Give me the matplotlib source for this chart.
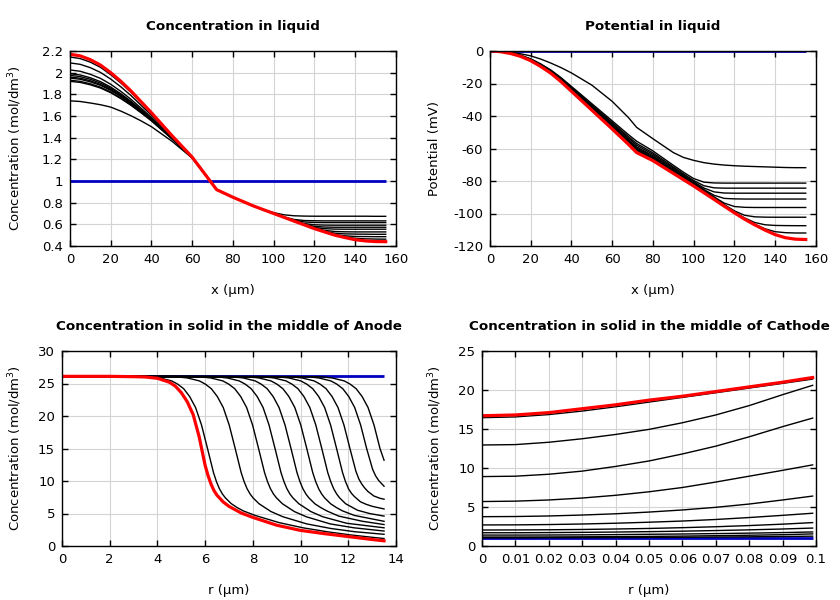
"""Battery cell profiles: liquid concentration / potential and solid concentration (4 panels)."""
import matplotlib

matplotlib.use("Agg")
import matplotlib.pyplot as plt

plt.rcParams["font.family"] = ["DejaVu Sans"]
plt.rcParams["axes.unicode_minus"] = False

# ---- liquid phase, position across the cell (um) ----
x_liq = [0, 5, 10, 15, 20, 25, 30, 35, 40, 50, 60, 68, 72, 80, 90, 95,
         100, 105, 110, 115, 120, 125, 130, 135, 140, 145, 150, 155]

conc_liq_init = [1.0] * len(x_liq)
conc_liq = [
    [1.74, 1.734, 1.72, 1.704, 1.682, 1.645, 1.602, 1.554, 1.501, 1.368, 1.211, 1.02, 0.92, 0.85, 0.77,
     0.737, 0.708, 0.688, 0.679, 0.676, 0.675, 0.675, 0.675, 0.675, 0.675, 0.675, 0.674, 0.674],
    [1.92, 1.91, 1.888, 1.858, 1.815, 1.76, 1.698, 1.628, 1.555, 1.39, 1.215, 1.02, 0.92, 0.85, 0.77,
     0.735, 0.701, 0.668, 0.645, 0.635, 0.633, 0.632, 0.632, 0.632, 0.632, 0.632, 0.632, 0.632],
    [1.93, 1.92, 1.897, 1.866, 1.822, 1.766, 1.703, 1.632, 1.558, 1.391, 1.215, 1.02, 0.92, 0.85, 0.77,
     0.735, 0.700, 0.667, 0.638, 0.622, 0.617, 0.616, 0.616, 0.616, 0.616, 0.616, 0.616, 0.616],
    [1.95, 1.939, 1.915, 1.883, 1.837, 1.779, 1.713, 1.64, 1.564, 1.394, 1.216, 1.02, 0.92, 0.85, 0.77,
     0.735, 0.70, 0.666, 0.633, 0.607, 0.596, 0.593, 0.592, 0.592, 0.592, 0.592, 0.592, 0.592],
    [1.96, 1.949, 1.925, 1.891, 1.845, 1.786, 1.719, 1.644, 1.567, 1.395, 1.216, 1.02, 0.92, 0.85, 0.77,
     0.735, 0.70, 0.665, 0.631, 0.601, 0.581, 0.575, 0.573, 0.573, 0.573, 0.573, 0.573, 0.573],
    [1.975, 1.964, 1.939, 1.904, 1.856, 1.795, 1.727, 1.65, 1.571, 1.397, 1.216, 1.02, 0.92, 0.85, 0.77,
     0.735, 0.70, 0.665, 0.63, 0.597, 0.571, 0.56, 0.556, 0.555, 0.555, 0.555, 0.555, 0.555],
    [1.99, 1.979, 1.953, 1.917, 1.867, 1.805, 1.735, 1.656, 1.576, 1.398, 1.216, 1.02, 0.92, 0.85, 0.77,
     0.735, 0.70, 0.665, 0.63, 0.596, 0.564, 0.544, 0.534, 0.531, 0.530, 0.530, 0.530, 0.530],
    [2.025, 2.013, 1.985, 1.947, 1.893, 1.827, 1.753, 1.671, 1.586, 1.403, 1.217, 1.02, 0.92, 0.85, 0.77,
     0.735, 0.70, 0.665, 0.63, 0.595, 0.561, 0.536, 0.518, 0.512, 0.510, 0.509, 0.508, 0.508],
    [2.09, 2.077, 2.046, 2.002, 1.941, 1.869, 1.788, 1.697, 1.606, 1.41, 1.218, 1.02, 0.92, 0.85, 0.77,
     0.735, 0.70, 0.665, 0.63, 0.595, 0.5605, 0.532, 0.506, 0.494, 0.488, 0.487, 0.486, 0.486],
    [2.145, 2.13, 2.097, 2.049, 1.981, 1.904, 1.817, 1.72, 1.622, 1.417, 1.219, 1.02, 0.92, 0.85, 0.77,
     0.735, 0.70, 0.665, 0.63, 0.595, 0.56, 0.531, 0.503, 0.484, 0.471, 0.466, 0.464, 0.463],
]
conc_liq_final = [2.17, 2.155, 2.12, 2.07, 2.00, 1.92, 1.83, 1.73, 1.63, 1.42, 1.22, 1.02, 0.92, 0.85, 0.77,
                  0.735, 0.70, 0.665, 0.63, 0.595, 0.56, 0.53, 0.50, 0.478, 0.458, 0.447, 0.441, 0.44]

pot_liq_init = [0.0] * len(x_liq)
pot_liq = [
    [0, -0.2, -0.8, -1.7, -3, -5, -7.5, -10.3, -13.5, -21, -31, -41, -47, -54, -62.5,
     -65.5, -67.3, -68.7, -69.6, -70.2, -70.6, -70.9, -71.1, -71.3, -71.5, -71.7, -71.8, -71.8],
    [0, -0.35, -1.2, -2.6, -4.8, -8.0, -11.8, -16.5, -21.8, -32.4, -43, -51.5, -55.5, -61.5, -70.3,
     -74.6, -78.5, -80.7, -81.2, -81.3, -81.3, -81.3, -81.3, -81.3, -81.3, -81.3, -81.3, -81.3],
    [0, -0.36, -1.26, -2.74, -5.04, -8.32, -12.2, -17.0, -22.4, -33.2, -44, -52.7, -56.9, -62.7, -71.3,
     -75.6, -79.7, -82.9, -84.2, -84.4, -84.4, -84.4, -84.4, -84.4, -84.4, -84.4, -84.4, -84.4],
    [0, -0.37, -1.3, -2.84, -5.22, -8.56, -12.5, -17.37, -22.85, -33.8, -44.75, -53.6, -57.95, -63.6, -72.05,
     -76.3, -80.4, -84.3, -86.7, -87.4, -87.5, -87.5, -87.5, -87.5, -87.5, -87.5, -87.5, -87.5],
    [0, -0.38, -1.35, -2.95, -5.4, -8.8, -12.8, -17.75, -23.3, -34.4, -45.5, -54.5, -59, -64.5, -72.8,
     -76.95, -81.1, -85.2, -88.8, -90.7, -91.0, -91.1, -91.1, -91.1, -91.1, -91.1, -91.1, -91.1],
    [0, -0.38, -1.38, -3.02, -5.52, -8.96, -13.0, -18.0, -23.6, -34.8, -46, -55.1, -59.7, -65.1, -73.3,
     -77.4, -81.5, -85.7, -89.8, -93.6, -95.7, -96.2, -96.3, -96.3, -96.3, -96.3, -96.3, -96.3],
    [0, -0.39, -1.41, -3.09, -5.64, -9.12, -13.2, -18.25, -23.9, -35.2, -46.5, -55.7, -60.4, -65.7, -73.8,
     -77.85, -81.9, -86.1, -90.25, -94.5, -98.4, -101.1, -102.05, -102.25, -102.3, -102.3, -102.3, -102.3],
    [0, -0.39, -1.44, -3.16, -5.76, -9.28, -13.4, -18.5, -24.2, -35.6, -47, -56.3, -61.1, -66.3, -74.3,
     -78.3, -82.3, -86.46, -90.6, -94.86, -99.0, -102.74, -105.55, -106.93, -107.35, -107.45, -107.5, -107.5],
    [0, -0.4, -1.47, -3.23, -5.88, -9.44, -13.6, -18.75, -24.5, -36.0, -47.5, -56.9, -61.8, -66.9, -74.8,
     -78.75, -82.7, -86.83, -90.95, -95.18, -99.3, -103.2, -106.6, -109.4, -111.2, -111.8, -112.0, -112.0],
]
pot_liq_final = [0, -0.4, -1.5, -3.3, -6.0, -9.6, -13.8, -19.0, -24.8, -36.4, -48, -57.5, -62.5, -67.5, -75.3,
                 -79.2, -83.1, -87.2, -91.3, -95.5, -99.6, -103.5, -107, -110.2, -113, -114.9, -115.8, -116]

# ---- solid phase, anode particle radius (um) ----
r_anode_init = [0, 13.5]
c_anode_init = [26.1, 26.1]
r_anode = [
    [0, 3.6, 4.1, 4.6, 4.85, 5.1, 5.35, 5.6, 5.85, 6.1, 6.35, 6.475, 6.6, 6.725, 6.85, 7.1, 7.35, 7.6,
     8.1, 9.1, 10.1, 11.1, 12.1, 13.1, 13.5],
    [0, 4.76, 5.26, 5.76, 6.01, 6.26, 6.51, 6.76, 7.01, 7.26, 7.51, 7.635, 7.76, 7.885, 8.01, 8.26, 8.51, 8.76,
     9.26, 10.26, 11.26, 12.26, 13.5],
    [0, 5.74, 6.24, 6.74, 6.99, 7.24, 7.49, 7.74, 7.99, 8.24, 8.49, 8.615, 8.74, 8.865, 8.99, 9.24, 9.49, 9.74,
     10.24, 11.24, 12.24, 13.5],
    [0, 6.43, 6.93, 7.43, 7.68, 7.93, 8.18, 8.43, 8.68, 8.93, 9.18, 9.305, 9.43, 9.555, 9.68, 9.93, 10.18, 10.43,
     10.93, 11.93, 13.5],
    [0, 7.1, 7.6, 8.1, 8.35, 8.6, 8.85, 9.1, 9.35, 9.6, 9.85, 9.975, 10.1, 10.225, 10.35, 10.6, 10.85, 11.1,
     11.6, 12.6, 13.5],
    [0, 7.76, 8.26, 8.76, 9.01, 9.26, 9.51, 9.76, 10.01, 10.26, 10.51, 10.635, 10.76, 10.885, 11.01, 11.26, 11.51,
     11.76, 12.26, 13.5],
    [0, 8.39, 8.89, 9.39, 9.64, 9.89, 10.14, 10.39, 10.64, 10.89, 11.14, 11.265, 11.39, 11.515, 11.64, 11.89,
     12.14, 12.39, 12.89, 13.5],
    [0, 9.01, 9.51, 10.01, 10.26, 10.51, 10.76, 11.01, 11.26, 11.51, 11.76, 11.885, 12.01, 12.135, 12.26, 12.51,
     12.76, 13.01, 13.5],
    [0, 9.57, 10.07, 10.57, 10.82, 11.07, 11.32, 11.57, 11.82, 12.07, 12.32, 12.445, 12.57, 12.695, 12.82, 13.07,
     13.32, 13.5],
    [0, 10.27, 10.77, 11.27, 11.52, 11.77, 12.02, 12.27, 12.52, 12.77, 13.02, 13.145, 13.27, 13.395, 13.5],
    [0, 10.83, 11.33, 11.83, 12.08, 12.33, 12.58, 12.83, 13.08, 13.33, 13.5],
]
c_anode = [
    [26.1, 26.05, 25.85, 25.4, 24.9, 24.2, 23.0, 21.3, 18.6, 15.0, 11.3, 9.9, 8.8, 8.0, 7.4, 6.5, 5.9, 5.4,
     4.7, 3.6, 2.8, 2.2, 1.7, 1.3, 1.15],
    [26.1, 26.05, 25.85, 25.4, 24.9, 24.2, 23.0, 21.3, 18.6, 15.0, 11.3, 9.9, 8.8, 8.0, 7.4, 6.5, 5.9, 5.3,
     4.5, 3.4, 2.7, 2.2, 1.8],
    [26.1, 26.05, 25.85, 25.4, 24.9, 24.2, 23.0, 21.3, 18.6, 15.0, 11.3, 9.9, 8.8, 8.0, 7.4, 6.5, 5.9, 5.3,
     4.5, 3.4, 2.8, 2.3],
    [26.1, 26.05, 25.85, 25.4, 24.9, 24.2, 23.0, 21.3, 18.6, 15.0, 11.3, 9.9, 8.8, 8.0, 7.4, 6.5, 5.9, 5.3,
     4.5, 3.5, 2.8],
    [26.1, 26.05, 25.85, 25.4, 24.9, 24.2, 23.0, 21.3, 18.6, 15.0, 11.3, 9.9, 8.8, 8.0, 7.4, 6.5, 5.9, 5.4,
     4.6, 3.8, 3.3],
    [26.1, 26.05, 25.85, 25.4, 24.9, 24.2, 23.0, 21.3, 18.6, 15.0, 11.3, 9.9, 8.8, 8.0, 7.4, 6.5, 5.9, 5.4,
     4.7, 3.8],
    [26.1, 26.05, 25.85, 25.4, 24.9, 24.2, 23.0, 21.3, 18.6, 15.0, 11.3, 9.9, 8.8, 8.0, 7.4, 6.5, 6.0, 5.5,
     5.0, 4.6],
    [26.1, 26.05, 25.85, 25.4, 24.9, 24.2, 23.0, 21.3, 18.6, 15.0, 11.3, 9.9, 8.8, 8.1, 7.6, 6.8, 6.4, 6.1, 5.7],
    [26.1, 26.05, 25.85, 25.4, 24.9, 24.2, 23.0, 21.3, 18.6, 15.0, 11.5, 10.3, 9.5, 8.9, 8.4, 7.7, 7.35, 7.2],
    [26.1, 26.05, 25.85, 25.4, 24.9, 24.2, 23.0, 21.3, 18.6, 15.0, 11.8, 10.8, 10.1, 9.6, 9.2],
    [26.1, 26.05, 25.85, 25.4, 24.9, 24.2, 23.0, 21.3, 18.6, 15.0, 13.2],
]
r_anode_final = [0, 2, 3, 3.5, 4, 4.5, 4.75, 5, 5.25, 5.5, 5.75, 6, 6.125, 6.25, 6.375, 6.5, 6.75, 7,
                 7.5, 8, 9, 10, 11, 12, 13, 13.5]
c_anode_final = [26.1, 26.1, 26.05, 26.0, 25.8, 25.2, 24.6, 23.6, 22.2, 20.2, 16.8, 12.4, 10.8, 9.5, 8.5, 7.8,
                 6.8, 6.1, 5.1, 4.4, 3.2, 2.4, 1.9, 1.45, 1.0, 0.8]

# ---- solid phase, cathode particle radius (um) ----
r_cath = [0, 0.01, 0.02, 0.03, 0.04, 0.05, 0.06, 0.07, 0.08, 0.09, 0.099]
c_cath_init = [1.0] * len(r_cath)
c_cath = [
    [1.05, 1.05, 1.06, 1.07, 1.08, 1.1, 1.12, 1.15, 1.18, 1.22, 1.26],
    [1.15, 1.15, 1.16, 1.18, 1.2, 1.23, 1.27, 1.32, 1.38, 1.45, 1.55],
    [1.4, 1.4, 1.41, 1.43, 1.46, 1.5, 1.54, 1.59, 1.65, 1.72, 1.8],
    [1.7, 1.7, 1.72, 1.75, 1.79, 1.84, 1.9, 1.98, 2.07, 2.18, 2.3],
    [2.05, 2.06, 2.08, 2.12, 2.18, 2.25, 2.35, 2.47, 2.62, 2.8, 3.0],
    [2.7, 2.71, 2.75, 2.82, 2.92, 3.05, 3.2, 3.4, 3.65, 3.93, 4.2],
    [3.76, 3.78, 3.85, 3.97, 4.13, 4.35, 4.62, 4.96, 5.38, 5.9, 6.4],
    [5.7, 5.75, 5.9, 6.15, 6.5, 6.95, 7.5, 8.2, 8.95, 9.7, 10.4],
    [8.9, 8.95, 9.2, 9.6, 10.2, 10.9, 11.8, 12.8, 14.0, 15.3, 16.4],
    [12.95, 13.0, 13.3, 13.75, 14.3, 14.95, 15.8, 16.8, 18.0, 19.4, 20.6],
    [16.45, 16.55, 16.85, 17.3, 17.85, 18.45, 19.05, 19.65, 20.25, 20.85, 21.4],
]
c_cath_final = [16.7, 16.8, 17.1, 17.6, 18.1, 18.7, 19.2, 19.8, 20.4, 21.0, 21.6]

# ---- axis ticks (gnuplot-like labels) ----
xt_liq = [0, 20, 40, 60, 80, 100, 120, 140, 160]
yt_conc_liq = [0.4, 0.6, 0.8, 1.0, 1.2, 1.4, 1.6, 1.8, 2.0, 2.2]
yl_conc_liq = ["0.4", "0.6", "0.8", "1", "1.2", "1.4", "1.6", "1.8", "2", "2.2"]
yt_pot = [-120, -100, -80, -60, -40, -20, 0]
xt_anode = [0, 2, 4, 6, 8, 10, 12, 14]
yt_anode = [0, 5, 10, 15, 20, 25, 30]
xt_cath = [0, 0.01, 0.02, 0.03, 0.04, 0.05, 0.06, 0.07, 0.08, 0.09, 0.1]
xl_cath = ["0", "0.01", "0.02", "0.03", "0.04", "0.05", "0.06", "0.07", "0.08", "0.09", "0.1"]
yt_cath = [0, 5, 10, 15, 20, 25]

BLUE = "#0000c0"
RED = "#ff0000"
CONC_LABEL = "Concentration (mol/dm$^3$)"


def style_axes(ax, title, xlabel, ylabel, ylab_x):
    ax.set_title(title, fontsize=9.7, fontweight="bold", pad=15)
    ax.set_xlabel(xlabel, fontsize=9.5, labelpad=13)
    ax.set_ylabel(ylabel, fontsize=9.5)
    ax.yaxis.set_label_coords(ylab_x, 0.5)
    ax.grid(True, color="#d4d4d4", linewidth=0.8)
    ax.set_axisbelow(True)
    ax.tick_params(direction="in", top=True, right=True, length=4, width=1, labelsize=9.5, pad=5)
    for sp in ax.spines.values():
        sp.set_linewidth(1.0)


def draw(ax, x_init, y_init, xs, ys, x_fin, y_fin):
    # initial state (blue), intermediate times (black), final state (red)
    ax.plot(x_init, y_init, color=BLUE, lw=2.0, solid_capstyle="butt")
    for x, y in zip(xs, ys):
        ax.plot(x, y, color="black", lw=1.0)
    ax.plot(x_fin, y_fin, color=RED, lw=2.3)


fig = plt.figure(figsize=(8.4, 6.0), dpi=100)

ax1 = fig.add_axes([0.0833, 0.590, 0.388, 0.325])
draw(ax1, x_liq, conc_liq_init, [x_liq] * len(conc_liq), conc_liq, x_liq, conc_liq_final)
ax1.set_xlim(0, 160)
ax1.set_ylim(0.4, 2.2)
ax1.set_xticks(xt_liq)
ax1.set_yticks(yt_conc_liq, yl_conc_liq)
style_axes(ax1, "Concentration in liquid", "x (µm)", CONC_LABEL, -0.141)

ax2 = fig.add_axes([0.5833, 0.590, 0.388, 0.325])
draw(ax2, x_liq, pot_liq_init, [x_liq] * len(pot_liq), pot_liq, x_liq, pot_liq_final)
ax2.set_xlim(0, 160)
ax2.set_ylim(-120, 0)
ax2.set_xticks(xt_liq)
ax2.set_yticks(yt_pot)
style_axes(ax2, "Potential in liquid", "x (µm)", "Potential (mV)", -0.150)

ax3 = fig.add_axes([0.0738, 0.090, 0.3976, 0.325])
draw(ax3, r_anode_init, c_anode_init, r_anode, c_anode, r_anode_final, c_anode_final)
ax3.set_xlim(0, 14)
ax3.set_ylim(0, 30)
ax3.set_xticks(xt_anode)
ax3.set_yticks(yt_anode)
style_axes(ax3, "Concentration in solid in the middle of Anode", "r (µm)", CONC_LABEL, -0.114)

ax4 = fig.add_axes([0.5738, 0.090, 0.3976, 0.325])
draw(ax4, r_cath, c_cath_init, [r_cath] * len(c_cath), c_cath, r_cath, c_cath_final)
ax4.set_xlim(0, 0.1)
ax4.set_ylim(0, 25)
ax4.set_xticks(xt_cath, xl_cath)
ax4.set_yticks(yt_cath)
style_axes(ax4, "Concentration in solid in the middle of Cathode", "r (µm)", CONC_LABEL, -0.114)

fig.savefig("out.png", dpi=100)
